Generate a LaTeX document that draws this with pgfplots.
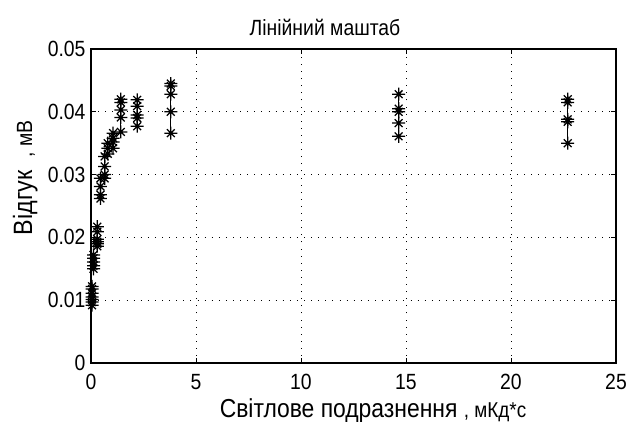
\documentclass[border=0pt]{standalone}
\usepackage{pgfplots}
\pgfplotsset{compat=1.18}
\usepackage{fontspec}
\setmainfont{Liberation Sans}[FakeStretch=0.88]
\pgfdeclareplotmark{mstar}{%
  \pgfpathmoveto{\pgfqpoint{-\pgfplotmarksize}{0pt}}\pgfpathlineto{\pgfqpoint{\pgfplotmarksize}{0pt}}%
  \pgfpathmoveto{\pgfqpoint{0pt}{-\pgfplotmarksize}}\pgfpathlineto{\pgfqpoint{0pt}{\pgfplotmarksize}}%
  \pgfpathmoveto{\pgfqpoint{-0.6\pgfplotmarksize}{-0.6\pgfplotmarksize}}\pgfpathlineto{\pgfqpoint{0.6\pgfplotmarksize}{0.6\pgfplotmarksize}}%
  \pgfpathmoveto{\pgfqpoint{-0.6\pgfplotmarksize}{0.6\pgfplotmarksize}}\pgfpathlineto{\pgfqpoint{0.6\pgfplotmarksize}{-0.6\pgfplotmarksize}}%
  \pgfusepathqstroke}
\begin{document}
\begin{tikzpicture}[x=1pt,y=1pt]
\useasboundingbox (0,0) rectangle (632,421);
\fill[white] (0,0) rectangle (632,421);
\begin{axis}[
  at={(91pt,58pt)}, anchor=south west,
  scale only axis, width=525pt, height=314pt,
  xmin=0, xmax=25, ymin=0, ymax=0.05,
  xtick={0,5,10,15,20,25},
  ytick={0,0.01,0.02,0.03,0.04,0.05},
  yticklabels={0,0.01,0.02,0.03,0.04,0.05},
  scaled y ticks=false,
  /pgf/number format/assume math mode=true,
  tick label style={font=\fontsize{22}{22}\selectfont},
  xticklabel style={yshift=-8pt},
  yticklabel style={xshift=-2pt},
  tick align=inside, major tick length=5pt,
  axis line style={line width=1.2pt},
  every tick/.style={black, line width=1pt},
  grid=major,
  major grid style={black, line width=0.9pt, dash pattern=on 0.9pt off 6.2pt},
  mark size=6.5pt,
  ser/.style={black, line width=1.25pt, mark=mstar, mark options={solid}},
]
\addplot[ser] coordinates {(0.05,0.0092)(0.05,0.0097)(0.05,0.0101)(0.05,0.0105)(0.05,0.0111)(0.05,0.0118)(0.05,0.0122)};
\addplot[ser] coordinates {(0.12,0.0150)(0.12,0.0155)(0.12,0.0161)(0.12,0.0167)(0.12,0.0172)};
\addplot[ser] coordinates {(0.3,0.0186)(0.3,0.0190)(0.3,0.0193)(0.3,0.0197)(0.3,0.0209)(0.3,0.0217)};
\addplot[ser] coordinates {(0.45,0.0262)(0.45,0.0268)(0.45,0.0281)(0.45,0.0294)};
\addplot[ser] coordinates {(0.65,0.0294)(0.65,0.0300)(0.65,0.0313)(0.65,0.0329)};
\addplot[ser] coordinates {(0.8,0.0333)(0.8,0.0342)(0.8,0.0350)};
\addplot[ser] coordinates {(1.05,0.0342)(1.05,0.0352)(1.05,0.0358)(1.05,0.0366)};
\addplot[ser] coordinates {(1.42,0.0368)(1.42,0.0391)(1.42,0.0403)(1.42,0.0415)(1.42,0.0420)};
\addplot[ser] coordinates {(2.2,0.0377)(2.2,0.0390)(2.2,0.0395)(2.2,0.0409)(2.2,0.0419)};
\addplot[ser] coordinates {(3.8,0.0366)(3.8,0.0400)(3.8,0.0428)(3.8,0.0441)(3.8,0.0445)};
\addplot[ser] coordinates {(14.65,0.0361)(14.65,0.0382)(14.65,0.0400)(14.65,0.0405)(14.65,0.0428)};
\addplot[ser] coordinates {(22.7,0.0350)(22.7,0.0384)(22.7,0.0388)(22.7,0.0415)(22.7,0.0420)};
\end{axis}
\node[font=\fontsize{22}{22}\selectfont] at (325,394) {Лінійний маштаб};
\node[font=\fontsize{26}{26}\selectfont, anchor=base] at (373,4) {Світлове подразнення {\fontsize{21.5}{21.5}\selectfont , мКд*с}};
\node[font=\fontsize{26.5}{26.5}\selectfont, rotate=90, anchor=base] at (32,243) {Відгук \ {\fontsize{22}{22}\selectfont , мВ}};
\end{tikzpicture}
\end{document}
